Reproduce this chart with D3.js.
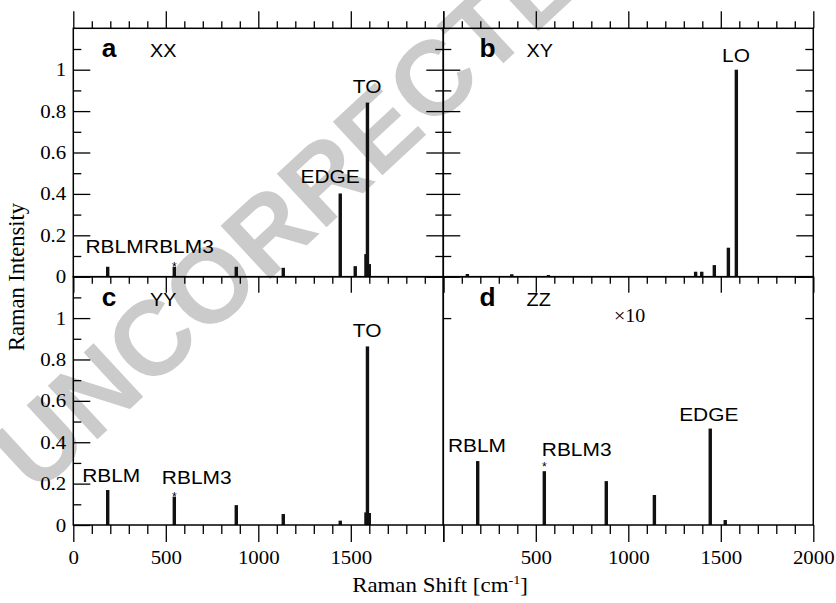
<!DOCTYPE html>
<html><head><meta charset="utf-8">
<script src="https://cdn.jsdelivr.net/npm/d3@7/dist/d3.min.js"></script>
<style>body{margin:0;background:#fff}svg{display:block}</style>
</head><body>
<svg id="chart" width="836" height="603"></svg>
<script>
// ---------------- data ----------------
const panelIds = ["a", "b", "c", "d"];
const polarizations = ["XX", "XY", "YY", "ZZ"];

const shiftA = [186, 546, 881, 1135, 1443, 1524, 1582, 1590, 1600];
const intensityA = [0.048, 0.048, 0.048, 0.043, 0.402, 0.051, 0.109, 0.841, 0.061];

const shiftB = [130, 370, 568, 1364, 1397, 1465, 1541, 1584];
const intensityB = [0.013, 0.012, 0.008, 0.024, 0.024, 0.056, 0.140, 1.000];

const shiftC = [186, 546, 881, 1135, 1443, 1582, 1590, 1600];
const intensityC = [0.169, 0.137, 0.096, 0.053, 0.021, 0.061, 0.863, 0.058];

const shiftD = [186, 546, 881, 1141, 1443, 1524];
const intensityD = [0.309, 0.260, 0.212, 0.145, 0.466, 0.024]; // shown x10

// peak labels: text, Raman shift, intensity (placement in data units)
const labelTextA = ["TO", "EDGE", "RBLM", "RBLM3"];
const labelShiftA = [1588, 1388, 223, 571];
const labelIntA = [0.887, 0.453, 0.116, 0.116];

const labelTextB = ["LO"];
const labelShiftB = [1582];
const labelIntB = [1.039];

const labelTextC = ["TO", "RBLM", "RBLM3"];
const labelShiftC = [1588, 205, 667];
const labelIntC = [0.910, 0.206, 0.198];

const labelTextD = ["EDGE", "RBLM", "RBLM3"];
const labelShiftD = [1435, 182, 721];
const labelIntD = [0.504, 0.354, 0.335];

const starShift = 546; // RBLM3 marked with *

const yMajorTicks = [0, 0.2, 0.4, 0.6, 0.8, 1];
const yMinorTicks = [0.1, 0.3, 0.5, 0.7, 0.9, 1.1];
const xMajorTicks = [0, 500, 1000, 1500, 2000];
const xMinorTicks = [100, 200, 300, 400, 600, 700, 800, 900, 1100, 1200, 1300, 1400, 1600, 1700, 1800, 1900];
const xLabelsLeft = [0, 500, 1000, 1500];
const xLabelsRight = [500, 1000, 1500, 2000];
const dTicks = [1];

// ---------------- layout ----------------
const svg = d3.select("#chart");
const L = 73.3, M = 443.3, R = 813.3, T = 28.3, MY = 276.7, B = 525;
const SANS = "Liberation Sans, Arial, Helvetica, sans-serif";
const SERIF = "Liberation Serif, Times New Roman, serif";
const SX = 1.1; // horizontal stretch of the lettering

function txt(parent, x, y, str, o) {
  return parent.append("text")
    .attr("transform", `translate(${x},${y}) scale(${o.sx || SX},1)`)
    .attr("text-anchor", o.anchor || "start")
    .attr("font-family", o.family || SANS)
    .attr("font-weight", o.weight || "normal")
    .attr("font-size", o.size)
    .attr("fill", o.fill || "#000")
    .text(str);
}

// watermark
svg.append("text")
  .attr("transform", "translate(36,496) rotate(-42.8)")
  .attr("font-family", SANS).attr("font-weight", "bold")
  .attr("font-size", 106).attr("fill", "#cbcbcb")
  .text("UNCORRECTED");

const panels = [
  {id: panelIds[0], pol: polarizations[0], cx: [L, M], cy: [T, MY], s: shiftA, v: intensityA,
   lt: labelTextA, ls: labelShiftA, li: labelIntA},
  {id: panelIds[1], pol: polarizations[1], cx: [M, R], cy: [T, MY], s: shiftB, v: intensityB,
   lt: labelTextB, ls: labelShiftB, li: labelIntB},
  {id: panelIds[2], pol: polarizations[2], cx: [L, M], cy: [MY, B], s: shiftC, v: intensityC,
   lt: labelTextC, ls: labelShiftC, li: labelIntC},
  {id: panelIds[3], pol: polarizations[3], cx: [M, R], cy: [MY, B], s: shiftD, v: intensityD,
   lt: labelTextD, ls: labelShiftD, li: labelIntD}
];

function tickAxis(gen, values, size) {
  return g => {
    g.call(gen.tickValues(values).tickSizeInner(size).tickSizeOuter(0).tickFormat(""));
    g.select(".domain").remove();
    g.selectAll(".tick line").attr("stroke", "#000").attr("stroke-width", 1.3);
  };
}

panels.forEach((p, i) => {
  const x = d3.scaleLinear().domain([0, 2000]).range(p.cx);
  const y = d3.scaleLinear().domain([0, 1.2]).range([p.cy[1], p.cy[0]]);
  const g = svg.append("g");

  // bars
  g.selectAll("rect.bar").data(p.s.map((s, k) => ({s, v: p.v[k]}))).join("rect")
    .attr("class", "bar")
    .attr("x", d => x(d.s) - 1.7).attr("width", 3.4)
    .attr("y", d => y(d.v)).attr("height", d => y(0) - y(d.v))
    .attr("fill", "#111");

  // asterisk
  const si = p.s.indexOf(starShift);
  if (si >= 0 && p.id !== "b") {
    g.append("text").attr("x", x(starShift)).attr("y", y(p.v[si]) + (p.id === "d" ? 0 : 4))
      .attr("text-anchor", "middle").attr("font-family", SANS).attr("font-size", 12)
      .text("*");
  }

  // frame
  g.append("rect").attr("x", p.cx[0]).attr("y", p.cy[0])
    .attr("width", p.cx[1] - p.cx[0]).attr("height", p.cy[1] - p.cy[0])
    .attr("fill", "none").attr("stroke", "#000").attr("stroke-width", 1.5);

  // x ticks
  if (p.cy[0] === T) {
    g.append("g").attr("transform", `translate(0,${T})`).call(tickAxis(d3.axisTop(x), xMajorTicks, 17));
    g.append("g").attr("transform", `translate(0,${T})`).call(tickAxis(d3.axisTop(x), xMinorTicks, 7));
    g.append("g").attr("transform", `translate(0,${MY})`).call(tickAxis(d3.axisBottom(x), xMajorTicks, 16));
    g.append("g").attr("transform", `translate(0,${MY})`).call(tickAxis(d3.axisBottom(x), xMinorTicks, 7));
  } else {
    g.append("g").attr("transform", `translate(0,${B})`).call(tickAxis(d3.axisBottom(x), xMajorTicks, 17));
    g.append("g").attr("transform", `translate(0,${B})`).call(tickAxis(d3.axisBottom(x), xMinorTicks, 9));
    const labs = p.cx[0] === L ? xLabelsLeft : xLabelsRight;
    const ax = g.append("g").attr("transform", `translate(0,${B})`)
      .call(d3.axisBottom(x).tickValues(labs).tickSize(0).tickPadding(26).tickFormat(d3.format("d")));
    ax.select(".domain").remove();
    ax.selectAll("text").attr("font-family", SERIF).attr("font-size", 19).attr("fill", "#000")
      .attr("transform", `scale(${SX},1)`).attr("x", function () { return 0; });
    ax.selectAll(".tick text").each(function () {
      // keep the label centred on its tick after the horizontal stretch
      const t = d3.select(this.parentNode).attr("transform");
      d3.select(this).attr("transform", `scale(${SX},1)`);
    });
  }

  // y ticks
  if (p.id === "a" || p.id === "c") {
    g.append("g").attr("transform", `translate(${L},0)`).call(tickAxis(d3.axisRight(y), yMajorTicks, 17));
    g.append("g").attr("transform", `translate(${L},0)`).call(tickAxis(d3.axisRight(y), yMinorTicks, 8));
    const ay = g.append("g").attr("transform", `translate(${L},0)`)
      .call(d3.axisLeft(y).tickValues(yMajorTicks).tickSize(0).tickPadding(7).tickFormat(d3.format("~g")));
    ay.select(".domain").remove();
    ay.selectAll("text").attr("font-family", SERIF).attr("font-size", 19).attr("fill", "#000")
      .attr("x", -7 / SX).attr("transform", `scale(${SX},1)`);
  }
  if (p.id === "a") {
    g.append("g").attr("transform", `translate(${M},0)`).call(tickAxis(d3.axisLeft(y), yMajorTicks, 17));
    g.append("g").attr("transform", `translate(${M},0)`).call(tickAxis(d3.axisLeft(y), yMinorTicks, 8));
  }
  if (p.id === "b") {
    g.append("g").attr("transform", `translate(${M},0)`).call(tickAxis(d3.axisRight(y), yMajorTicks, 17));
    g.append("g").attr("transform", `translate(${M},0)`).call(tickAxis(d3.axisRight(y), yMinorTicks, 8));
    g.append("g").attr("transform", `translate(${R},0)`).call(tickAxis(d3.axisLeft(y), yMajorTicks, 17));
    g.append("g").attr("transform", `translate(${R},0)`).call(tickAxis(d3.axisLeft(y), yMinorTicks, 8));
  }
  if (p.id === "d") {
    g.append("g").attr("transform", `translate(${M},0)`).call(tickAxis(d3.axisRight(y), dTicks, 8));
    g.append("g").attr("transform", `translate(${R},0)`).call(tickAxis(d3.axisLeft(y), dTicks, 8));
  }

  // panel letter and polarization
  txt(g, x(p.cx[0] === L ? 154 : 195), y(1.06), p.id, {size: 25, weight: "bold", sx: 1.05});
  txt(g, x(p.cx[0] === L ? 415 : 450), y(1.06), p.pol, {size: 18});

  // peak labels
  p.lt.forEach((t, k) => {
    txt(g, x(p.ls[k]), y(p.li[k]), t, {size: 19, anchor: "middle"});
  });

  if (p.id === "d") {
    txt(g, x(923), y(0.982), "\u00d710", {size: 19, family: SERIF, sx: 1.05});
  }
});

// axis titles
const xt = svg.append("text").attr("transform", `translate(440,592) scale(1.09,1)`)
  .attr("text-anchor", "middle").attr("font-family", SERIF).attr("font-size", 21);
xt.append("tspan").text("Raman Shift [cm");
xt.append("tspan").attr("font-size", 13).attr("dy", -8).text("-1");
xt.append("tspan").attr("dy", 8).text("]");

svg.append("text").attr("transform", "translate(24,277) rotate(-90)")
  .attr("text-anchor", "middle").attr("font-family", SERIF).attr("font-size", 22.5)
  .text("Raman Intensity");
</script>
</body></html>
